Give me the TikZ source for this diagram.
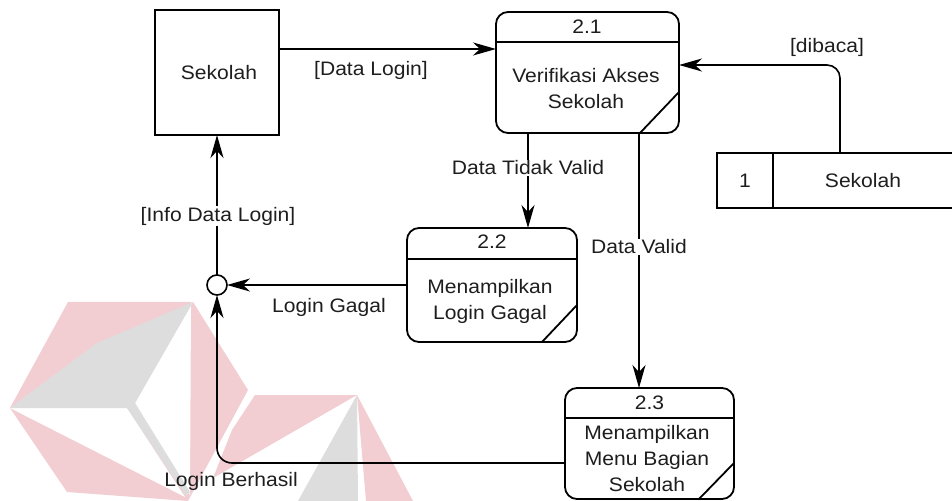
\documentclass[tikz,border=0pt]{standalone}
\usepackage{fontspec}
\setmainfont{Liberation Sans}[FakeStretch=1.08]
\usetikzlibrary{arrows.meta,calc}
\definecolor{wmpink}{HTML}{F2CED3}
\definecolor{wmgray}{HTML}{DDDDDD}
\definecolor{ink}{HTML}{1E1E1E}
\begin{document}
\begin{tikzpicture}[x=1bp,y=-1bp,
  every node/.style={font=\fontsize{19.5bp}{26bp}\selectfont, inner sep=0pt, outer sep=0pt, text=ink},
  proc/.style={draw, line width=1.8bp, rounded corners=12bp},
  entbox/.style={draw, line width=1.8bp},
  edge/.style={line width=1.8bp},
  flow/.style={line width=1.6bp, -{Stealth[length=23bp,width=13bp,inset=7bp]}},
  lbl/.style={fill=white, inner sep=1bp},
  txt/.style={align=center},
  wmp/.style={fill=wmpink}, wmg/.style={fill=wmgray}, wmw/.style={fill=white}]
% canvas
\fill[white] (0,0) rectangle (952,501);
\useasboundingbox (0,0) rectangle (952,501);
% watermark (left part)
\path[wmp] (68,302) -- (193,302) -- (248,390) -- (188,501) -- (67,492) -- (10,408) -- cycle;
\path[wmw] (10,408) -- (127,408) -- (185,497) -- cycle;
\path[wmw] (193,302) -- (135,403) -- (190,495) -- (191,302) -- cycle;
\path[wmg] (193,302) -- (97,343) -- (10,408) -- (127,408) -- (186,496) -- (190,492) -- (135,403) -- cycle;
% watermark (right part)
\path[wmp] (255,395) -- (357,395) -- (213,478) -- (232,430) -- cycle;
\path[wmg] (357,395) -- (298,501) -- (358,501) -- cycle;
\path[wmp] (357,395) -- (366,501) -- (413,501) -- cycle;
% external entity
\node[entbox, minimum width=124bp, minimum height=125bp] (ent) at (217,72.5) {};
\node (entt) at (219,73) {Sekolah};
% process 2.1
\node[proc, minimum width=183bp, minimum height=121bp] (p21) at (587.5,72.5) {};
\draw[edge] ($(p21.north west)+(0,30)$) -- ($(p21.north east)+(0,30)$);
\draw[edge] ($(p21.south east)+(-39,0)$) -- ($(p21.south east)+(0,-41)$);
\node (p21n) at (587,27) {2.1};
\node[txt] (p21t) at (586,88.5) {Verifikasi Akses\\Sekolah};
% process 2.2
\node[proc, minimum width=170bp, minimum height=114bp] (p22) at (492,285) {};
\draw[edge] ($(p22.north west)+(0,31)$) -- ($(p22.north east)+(0,31)$);
\draw[edge] ($(p22.south east)+(-35,0)$) -- ($(p22.south east)+(0,-37)$);
\node (p22n) at (492,242) {2.2};
\node[txt] (p22t) at (490,301.5) {Menampilkan\\Login Gagal};
% process 2.3
\node[proc, minimum width=169bp, minimum height=111bp] (p23) at (649.5,443.5) {};
\draw[edge] ($(p23.north west)+(0,30)$) -- ($(p23.north east)+(0,30)$);
\draw[edge] ($(p23.south east)+(-35,0)$) -- ($(p23.south east)+(0,-36)$);
\node (p23n) at (649.5,403) {2.3};
\node[txt] (p23t) at (647,459) {Menampilkan\\Menu Bagian\\Sekolah};
% data store
\node[minimum width=235bp, minimum height=55bp] (store) at (834.5,180.5) {};
\draw[edge] (store.north east) -- (store.north west) -- (store.south west) -- (store.south east);
\draw[edge] ($(store.north west)+(56,0)$) -- ($(store.south west)+(56,0)$);
\node (storen) at (745,181) {1};
\node (storet) at (863,181) {Sekolah};
% junction
\node[draw, circle, line width=1.6bp, minimum size=20bp] (junc) at (217,285) {};
% connectors
\coordinate (dl) at ($(ent.east)+(0,-23.5)$);
\draw[flow] (dl) -- (dl -| p21.west);
\coordinate (db) at ($(store.north west)+(123,0)$);
\coordinate (dbend) at ($(p21.east)+(0,-7.5)$);
\draw[flow, rounded corners=13bp] (db) |- (dbend);
\coordinate (dtv) at ($(p21.south)+(-59.5,0)$);
\draw[flow] (dtv) -- (dtv |- p22.north);
\coordinate (dv) at ($(p21.south)+(51.5,0)$);
\draw[flow] (dv) -- (dv |- p23.north);
\draw[flow] (p22.west) -- (junc.east);
\draw[flow] (junc.north) -- (ent.south);
\coordinate (lb) at ($(p23.west)+(0,19.5)$);
\draw[flow, rounded corners=15bp] (lb) -| (junc.south);
% labels
\node (l1) at (371,70) {[Data Login]};
\node (l2) at (827,47) {[dibaca]};
\node[lbl] (l3) at (528,168) {Data Tidak Valid};
\node[lbl] (l4) at (639,247) {Data Valid};
\node[lbl] (l5) at (218,216) {[Info Data Login]};
\node (l6) at (329,307) {Login Gagal};
\node (l7) at (231,481) {Login Berhasil};
\end{tikzpicture}
\end{document}
